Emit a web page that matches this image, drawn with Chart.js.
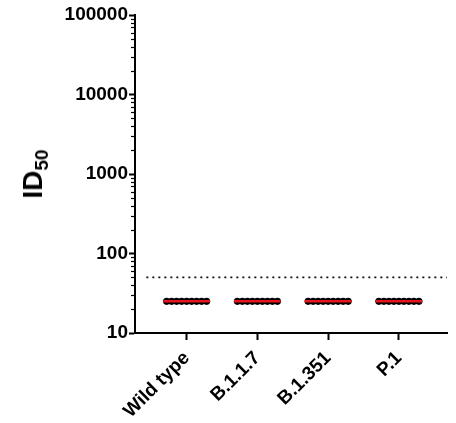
<!DOCTYPE html>
<html>
<head>
<meta charset="utf-8">
<script src="https://cdn.jsdelivr.net/npm/chart.js@4/dist/chart.umd.min.js"></script>
<style>
    body { margin: 0; background: #fff; }
    #wrap { position: relative; width: 456px; height: 423px; }
    #ylabel {
        position: absolute; left: 35px; top: 174px;
        transform: translate(-50%, -50%) rotate(-90deg);
        font-family: "Liberation Sans", Arial, sans-serif;
        font-weight: bold; font-size: 28px; color: #000;
        white-space: nowrap; line-height: 1;
    }
    #ylabel sub { font-size: 19px; vertical-align: -6px; }
</style>
</head>
<body>
<div id="wrap">
    <canvas id="chart" width="456" height="423"></canvas>
    <div id="ylabel">ID<sub>50</sub></div>
</div>
<script>
document.addEventListener("DOMContentLoaded", () => {
    const categories = ["Wild type", "B.1.1.7", "B.1.351", "P.1"];
    const wildType = [25, 25, 25, 25, 25, 25, 25, 25, 25];
    const b117 = [25, 25, 25, 25, 25, 25, 25, 25, 25];
    const b1351 = [25, 25, 25, 25, 25, 25, 25, 25, 25];
    const p1 = [25, 25, 25, 25, 25, 25, 25, 25, 25];
    const yTicks = [10, 100, 1000, 10000, 100000];
    const detectionLimit = 50;

    const groups = [wildType, b117, b1351, p1];
    const font = "'Liberation Sans', Arial, sans-serif";

    function median(arr) {
        const s = [...arr].sort((a, b) => a - b);
        const m = Math.floor(s.length / 2);
        return s.length % 2 ? s[m] : (s[m - 1] + s[m]) / 2;
    }

    const datasets = [];

    // median bars (red)
    groups.forEach((vals, i) => {
        const med = median(vals);
        datasets.push({
            type: "line",
            data: [{ x: i - 0.33, y: med }, { x: i + 0.33, y: med }],
            borderColor: "#e8141b",
            borderWidth: 2.5,
            pointRadius: 0,
            order: 0
        });
    });

    // individual points spread horizontally
    groups.forEach((vals, i) => {
        const n = vals.length;
        datasets.push({
            type: "scatter",
            data: vals.map((v, k) => ({ x: i + (k - (n - 1) / 2) * 0.0707, y: v })),
            backgroundColor: "#000",
            borderWidth: 0,
            pointRadius: 3.6,
            order: 1
        });
    });

    // limit of detection
    datasets.push({
        type: "line",
        data: [{ x: -0.57, y: detectionLimit }, { x: 3.68, y: detectionLimit }],
        borderColor: "#111",
        borderWidth: 1.8,
        borderDash: [2, 4],
        pointRadius: 0,
        order: 2
    });

    const minorTicks = {
        id: "minorTicks",
        afterDraw(chart) {
            const y = chart.scales.y;
            const ctx = chart.ctx;
            const left = chart.chartArea.left;
            ctx.save();
            ctx.strokeStyle = "#000";
            ctx.lineWidth = 1.2;
            for (let d = 10; d < 100000; d *= 10) {
                for (let m = 2; m <= 9; m++) {
                    const py = Math.round(y.getPixelForValue(m * d)) + 0.5;
                    ctx.beginPath();
                    ctx.moveTo(left - 4, py);
                    ctx.lineTo(left, py);
                    ctx.stroke();
                }
            }
            ctx.restore();
        }
    };

    new Chart(document.getElementById("chart"), {
        data: { datasets },
        options: {
            responsive: false,
            animation: false,
            layout: { padding: { top: 15, right: 9, left: 0, bottom: 0 } },
            plugins: { legend: { display: false }, tooltip: { enabled: false } },
            scales: {
                x: {
                    type: "linear",
                    min: -0.73,
                    max: 3.68,
                    border: { color: "#000", width: 2 },
                    grid: { drawOnChartArea: false, tickLength: 7, tickWidth: 2, tickColor: "#000" },
                    afterBuildTicks: scale => { scale.ticks = categories.map((c, i) => ({ value: i })); },
                    afterFit: scale => { scale.height = 90; },
                    ticks: {
                        callback: v => categories[v],
                        minRotation: 45,
                        maxRotation: 45,
                        autoSkip: false,
                        color: "#000",
                        padding: 7,
                        font: { family: font, size: 19, weight: "bold" }
                    }
                },
                y: {
                    type: "logarithmic",
                    min: 10,
                    max: 100000,
                    border: { color: "#000", width: 2 },
                    grid: { drawOnChartArea: false, tickLength: 6, tickWidth: 2, tickColor: "#000" },
                    afterBuildTicks: scale => { scale.ticks = yTicks.map(v => ({ value: v })); },
                    afterFit: scale => { scale.width = 135; },
                    ticks: {
                        callback: v => String(v),
                        autoSkip: false,
                        color: "#000",
                        padding: 1,
                        font: { family: font, size: 19, weight: "bold" }
                    }
                }
            }
        },
        plugins: [minorTicks]
    });
});
</script>
</body>
</html>
